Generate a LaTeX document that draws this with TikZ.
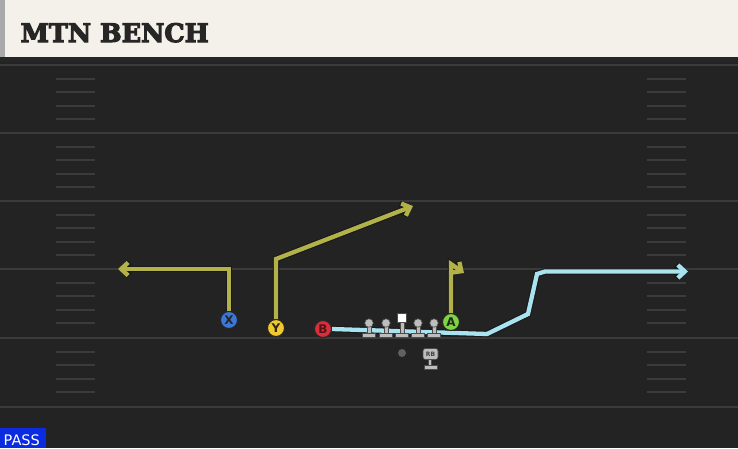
\documentclass[tikz,border=0pt]{standalone}
\usepackage{fontspec}
\setmainfont{DejaVu Sans}
\newfontfamily\titlefont{DejaVu Serif}
\usetikzlibrary{arrows.meta}
\definecolor{fieldc}{HTML}{232323}
\definecolor{creamc}{HTML}{F3F1EA}
\definecolor{stripc}{HTML}{A9A9A9}
\definecolor{yardc}{HTML}{3A3A3A}
\definecolor{hashc}{HTML}{3B3B3B}
\definecolor{yelroute}{HTML}{B3B24A}
\definecolor{bluroute}{HTML}{A9E3F0}
\definecolor{xc}{HTML}{3C78D8}
\definecolor{yc}{HTML}{F2C92A}
\definecolor{bc}{HTML}{D92F3A}
\definecolor{ac}{HTML}{7ED442}
\definecolor{linec}{HTML}{BDBDBD}
\definecolor{passc}{HTML}{0B2BE0}
\newcommand{\heavytext}[1]{\special{pdf:literal 2 Tr 1.1 w}#1\special{pdf:literal 0 Tr}}
\tikzset{
  yard/.style={draw=yardc, line width=2pt},
  hashm/.style={draw=hashc, line width=2pt},
  route/.style={line width=4.3pt, line join=miter,
    preaction={draw=black!90, line width=6.5pt, line join=miter}},
  tipped/.style={-{Straight Barb[length=7pt,width=13pt]}},
  player/.style={circle, draw=black!85, line width=1pt, minimum size=17pt, inner sep=0pt,
    font=\fontsize{12}{12}\selectfont\bfseries, text=black!85},
  lmhead/.style={circle, fill=linec, draw=black!70, line width=0.6pt, minimum size=8.5pt, inner sep=0pt},
  lmpart/.style={fill=linec, draw=black!70, line width=0.5pt},
}
\begin{document}
\begin{tikzpicture}[x=1pt,y=-1pt]
\useasboundingbox (0,0) rectangle (738,448);
\fill[fieldc] (0,0) rectangle (738,448);
% header
\fill[creamc] (0,0) rectangle (738,57);
\fill[stripc] (0,0) rectangle (5,57);
\fill[black!85] (0,57) rectangle (738,62);
\node[anchor=base west, inner sep=0pt, font=\titlefont\bfseries\fontsize{25.5}{25.5}\selectfont, text=black!85] (title) at (20.5,42) {\heavytext{MTN BENCH}};
% yard lines
\foreach \yy in {65,133,201,269,338,407} {\draw[yard] (0,\yy) -- (738,\yy);}
\foreach \yy in {65,133,201,269,338} {
  \foreach \k in {1,2,3,4} {
    \draw[hashm] (56,\yy+13.6*\k) -- (95,\yy+13.6*\k);
    \draw[hashm] (647,\yy+13.6*\k) -- (686,\yy+13.6*\k);
  }
}
% players (nodes)
\node[player, fill=xc] (X) at (229,320) {X};
\node[player, fill=yc] (Y) at (276,328) {Y};
\node[player, fill=bc, text=black!60!bc] (B) at (323,329) {B};
\node[player, fill=ac] (A) at (451,322) {A};
% route coordinates
\coordinate (xc1) at (229,269);
\coordinate (xend) at (118,269);
\coordinate (yc1) at (276,259);
\coordinate (yend) at (413,206);
\coordinate (bc1) at (487,334);
\coordinate (bc2) at (528,314);
\coordinate (bc3) at (537,274);
\coordinate (bc4) at (545,271.5);
\coordinate (bend) at (688,271.5);
\coordinate (ac1) at (451,264);
\coordinate (aend) at (464,273);
% routes
\draw[route, draw=bluroute, tipped, preaction={tipped}] (B.east) -- (bc1) -- (bc2) -- (bc3) -- (bc4) -- (bend);
\draw[route, draw=yelroute, tipped, preaction={tipped}] (X.north) -- (xc1) -- (xend);
\draw[route, draw=yelroute, tipped, preaction={tipped}] (Y.north) -- (yc1) -- (yend);
\draw[route, draw=yelroute, tipped, preaction={tipped}] (A.north) -- (ac1) -- (aend);
% redraw players on top
\node[player, fill=xc] at (X) {X};
\node[player, fill=yc] at (Y) {Y};
\node[player, fill=bc, text=black!60!bc] at (B) {B};
% linemen
\foreach \xx/\nm in {369/lt,386/lg,418/rg,434/rt} {
  \fill[lmpart] (\xx-1.8,324) rectangle (\xx+1.8,333.5);
  \fill[lmpart] (\xx-6.5,333) rectangle (\xx+6.5,337.5);
  \node[lmhead] (\nm) at (\xx,323) {};
}
\fill[lmpart] (400.2,320) rectangle (403.8,333.5);
\fill[lmpart] (395.5,333) rectangle (408.5,337.5);
\node[rectangle, fill=white, draw=black!70, line width=0.6pt, minimum size=9.5pt, inner sep=0pt] (C) at (402,318) {};
\node[player, fill=ac] at (A) {A};
% QB
\node[circle, fill=gray!75!black, minimum size=8pt, inner sep=0pt] (QB) at (402,353) {};
% RB
\fill[lmpart] (428.3,358) rectangle (431.7,365.5);
\fill[lmpart] (424,365) rectangle (437,369);
\node[rectangle, rounded corners=2.5pt, fill=linec, draw=black!70, line width=0.6pt, minimum width=15pt, minimum height=11pt, inner sep=0pt, font=\fontsize{6}{6}\selectfont\bfseries, text=black!75] (RB) at (430.5,354) {RB};
% PASS tag
\fill[passc] (0,428) rectangle (46,448);
\node[anchor=base west, inner sep=0pt, text=white, font=\fontsize{14.5}{14.5}\selectfont] (pass) at (3.5,445) {PASS};
\end{tikzpicture}
\end{document}
